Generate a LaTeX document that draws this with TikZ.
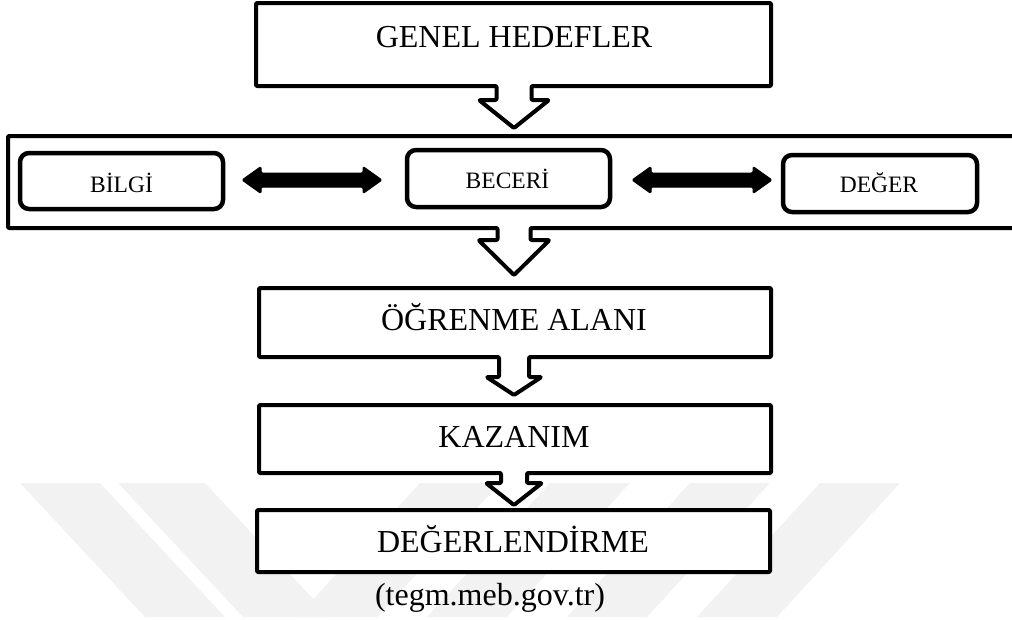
\documentclass[tikz,border=0pt]{standalone}
\usepackage{fontspec}
\setmainfont{Liberation Serif}
\usetikzlibrary{calc}

\tikzset{
  frame/.style={draw=black, line width=4pt, fill=white, line join=round, rounded corners=1pt},
  slot/.style={inner sep=0pt, outer sep=0pt, draw=none},
  softbox/.style={draw=black, line width=4.5pt, rounded corners=9pt, fill=white,
                  inner sep=0pt, outer sep=0pt},
  bigtext/.style={font=\fontsize{32}{38}\selectfont, inner sep=0pt, anchor=base},
  smalltext/.style={font=\fontsize{23.5}{28}\selectfont, inner sep=0pt, anchor=base},
  twoway/.style={fill=black, draw=black, line width=1pt, rounded corners=1.5pt, line join=round},
  faint/.style={fill=black!5, draw=none}
}

% box outline with a hollow down arrow growing out of its bottom edge
% #1 box node, #2 notch half width, #3 shaft length, #4 head half width, #5 tip depth
\newcommand\calloutbox[5]{%
  \draw[frame] (#1.north west) -- (#1.north east) -- (#1.south east)
    -- ($(spine |- #1.south)+(#2,0)$) -- ($(spine |- #1.south)+(#2,#3)$)
    -- ($(spine |- #1.south)+(#4,#3)$) -- ($(spine |- #1.south)+(0,#5)$)
    -- ($(spine |- #1.south)+(-#4,#3)$) -- ($(spine |- #1.south)+(-#2,#3)$)
    -- ($(spine |- #1.south)+(-#2,0)$) -- (#1.south west) -- cycle;}

% thick two-headed arrow between two points on one row
\newcommand\twoway[2]{%
  \path[twoway] (#1) -- ($(#1)+(19,-13.5)$) -- ($(#1)+(19,-7)$)
    -- ($(#2)+(-19,-7)$) -- ($(#2)+(-19,-13.5)$) -- (#2)
    -- ($(#2)+(-19,13.5)$) -- ($(#2)+(-19,7)$)
    -- ($(#1)+(19,7)$) -- ($(#1)+(19,13.5)$) -- cycle;}

\begin{document}
\begin{tikzpicture}[x=1pt, y=-1pt]
  \useasboundingbox (0,0) rectangle (1012,619);
  \clip (0,0) rectangle (1012,619);

  % faint background stripes
  \path[faint] (20,483) -- (100,483) -- (225,617) -- (145,617) -- cycle;
  \path[faint] (118,483) -- (205,483) -- (330,617) -- (243,617) -- cycle;
  \path[faint] (420,483) -- (500,483) -- (377,617) -- (297,617) -- cycle;
  \path[faint] (550,483) -- (630,483) -- (507,617) -- (427,617) -- cycle;
  \path[faint] (690,483) -- (770,483) -- (647,617) -- (567,617) -- cycle;
  \path[faint] (820,483) -- (900,483) -- (777,617) -- (697,617) -- cycle;

  \coordinate (spine) at (514,0);

  % box frames
  \node[slot, minimum width=515, minimum height=83] (genel) at (513.5,44.5) {};
  \node[slot, minimum width=1032, minimum height=92] (alanlar) at (524,182) {};
  \node[slot, minimum width=512, minimum height=69] (ogrenme) at (515,322.5) {};
  \node[slot, minimum width=512, minimum height=68] (kazanim) at (515,439) {};
  \node[slot, minimum width=513, minimum height=62] (degerlendirme) at (513.5,541) {};

  \calloutbox{genel}{17.5}{14}{35}{42}
  \calloutbox{alanlar}{16.5}{12}{35.5}{47}
  \calloutbox{ogrenme}{15}{20}{27.5}{38}
  \calloutbox{kazanim}{13}{10}{28}{32}
  \draw[frame] (degerlendirme.north west) rectangle (degerlendirme.south east);

  % labels of the main boxes
  \node[bigtext] (genel-t) at (514,47) {GENEL HEDEFLER};
  \node[bigtext] (ogrenme-t) at (514,330) {ÖĞRENME ALANI};
  \node[bigtext] (kazanim-t) at (514,447) {KAZANIM};
  \node[bigtext] (degerlendirme-t) at (513,552) {DEĞERLENDİRME};
  \node[bigtext] (kaynak) at (490,605) {(tegm.meb.gov.tr)};

  % the three domains
  \node[softbox, minimum width=203, minimum height=56] (bilgi) at (121.5,181) {};
  \node[softbox, minimum width=203, minimum height=57] (beceri) at (508.5,178.5) {};
  \node[softbox, minimum width=194, minimum height=57] (deger) at (880,183.5) {};
  \node[smalltext] (bilgi-t) at (121.5,192) {BİLGİ};
  \node[smalltext] (beceri-t) at (507.5,188) {BECERİ};
  \node[smalltext] (deger-t) at (879,192) {DEĞER};

  % links between the domains
  \coordinate (a1s) at ($(bilgi.east)+(19,-1)$);
  \coordinate (a1e) at ($(beceri.west |- a1s)+(-25,0)$);
  \coordinate (a2s) at ($(beceri.east |- a1s)+(22,0)$);
  \coordinate (a2e) at ($(deger.west |- a1s)+(-11,0)$);
  \twoway{a1s}{a1e}
  \twoway{a2s}{a2e}
\end{tikzpicture}
\end{document}
